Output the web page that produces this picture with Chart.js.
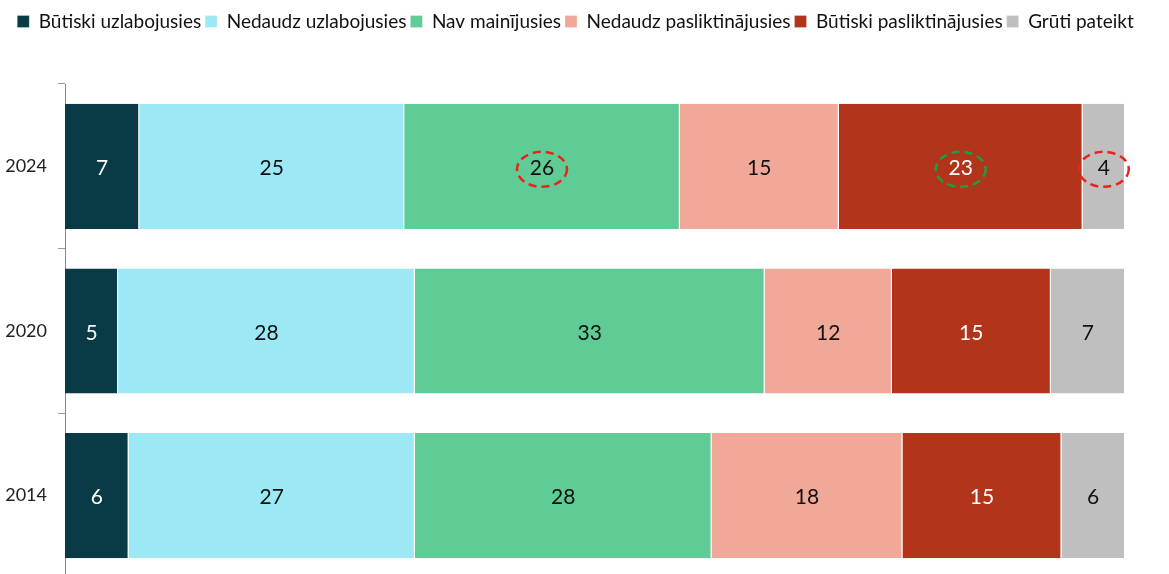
<!DOCTYPE html>
<html lang="lv">
<head>
  <meta charset="UTF-8">
  <title>Izmaiņas</title>
  <script src="https://cdn.jsdelivr.net/npm/chart.js"></script>
  <style>
    html, body { margin: 0; padding: 0; background: #fff; overflow: hidden; }
    .chart-container { width: 1169px; height: 578px; }
  </style>
</head>
<body>
  <div class="chart-container">
    <canvas id="myChart"></canvas>
  </div>

  <script>
    // dati
    const years = ['2024', '2020', '2014'];
    const seriesNames = ['Būtiski uzlabojusies', 'Nedaudz uzlabojusies', 'Nav mainījusies',
      'Nedaudz pasliktinājusies', 'Būtiski pasliktinājusies', 'Grūti pateikt'];
    const butiskiUzlab = [7, 5, 6];
    const nedaudzUzlab = [25, 28, 27];
    const navMainijusies = [26, 33, 28];
    const nedaudzPaslikt = [15, 12, 18];
    const butiskiPaslikt = [23, 15, 15];
    const grutiPateikt = [4, 7, 6];

    const colors = ['#083b45', '#9de8f5', '#5fcb95', '#f0a999', '#b1341b', '#bfbfbf'];
    const labelColors = ['#fff', '#111', '#111', '#111', '#fff', '#111'];

    // apvilktās vērtības: sērija, gads, krāsa
    const circled = [
      { series: 2, year: 0, color: '#e8231e' },
      { series: 4, year: 0, color: '#1aa044' },
      { series: 5, year: 0, color: '#e8231e' }
    ];

    const allValues = [butiskiUzlab, nedaudzUzlab, navMainijusies, nedaudzPaslikt, butiskiPaslikt, grutiPateikt];
    const FONT = 'Lato, "Open Sans", sans-serif';

    // leģendas augstums un centrēšana
    const legendSpace = {
      id: 'legendSpace',
      beforeInit(chart) {
        const fit = chart.legend.fit;
        chart.legend.fit = function () {
          fit.call(this);
          this.height = 76;
        };
      },
      afterLayout(chart) {
        chart.legend.left = 0;
        chart.legend.right = chart.width - 18;
      }
    };

    const barLabels = {
      id: 'barLabels',
      afterDatasetsDraw(chart) {
        const ctx = chart.ctx;
        ctx.save();
        ctx.font = '21px ' + FONT;
        ctx.textAlign = 'center';
        ctx.textBaseline = 'middle';
        chart.data.datasets.forEach((ds, i) => {
          chart.getDatasetMeta(i).data.forEach((bar, j) => {
            ctx.fillStyle = labelColors[i];
            ctx.fillText(ds.data[j], (bar.x + bar.base) / 2, bar.y + 2);
          });
        });
        // punktētās elipses
        circled.forEach(c => {
          const bar = chart.getDatasetMeta(c.series).data[c.year];
          ctx.beginPath();
          ctx.setLineDash([8, 5]);
          ctx.lineWidth = 2.5;
          ctx.strokeStyle = c.color;
          ctx.ellipse((bar.x + bar.base) / 2, bar.y + 3, 25, 17.5, 0, 0, Math.PI * 2);
          ctx.stroke();
        });
        ctx.restore();
      }
    };

    const ctx = document.getElementById('myChart').getContext('2d');
    const myChart = new Chart(ctx, {
      type: 'bar',
      data: {
        labels: years,
        datasets: seriesNames.map((name, i) => ({
          label: name,
          data: allValues[i],
          backgroundColor: colors[i],
          borderColor: '#fff',
          borderWidth: { left: 0, right: 1, top: 0, bottom: 0 },
          borderSkipped: false,
          categoryPercentage: 1,
          barPercentage: 0.76
        }))
      },
      options: {
        indexAxis: 'y',
        responsive: true,
        maintainAspectRatio: false,
        animation: false,
        events: [],
        layout: { padding: { top: 8, right: 44, bottom: 0, left: 0 } },
        scales: {
          x: {
            stacked: true,
            min: 0,
            max: 100,
            display: false
          },
          y: {
            stacked: true,
            afterFit(scale) {
              scale.width = 65;
              scale.paddingTop = 0;
              scale.paddingBottom = 0;
            },
            grid: {
              offset: true,
              drawOnChartArea: false,
              tickLength: 7,
              color: '#999'
            },
            border: { display: true, color: '#888', width: 1 },
            ticks: {
              color: '#222',
              padding: 11,
              font: { family: FONT, size: 18 }
            }
          }
        },
        plugins: {
          legend: {
            position: 'top',
            labels: {
              boxWidth: 12,
              boxHeight: 12,
              padding: 4,
              color: '#111',
              font: { family: FONT, size: 19 }
            }
          },
          tooltip: { enabled: false }
        }
      },
      plugins: [legendSpace, barLabels]
    });
  </script>
</body>
</html>
